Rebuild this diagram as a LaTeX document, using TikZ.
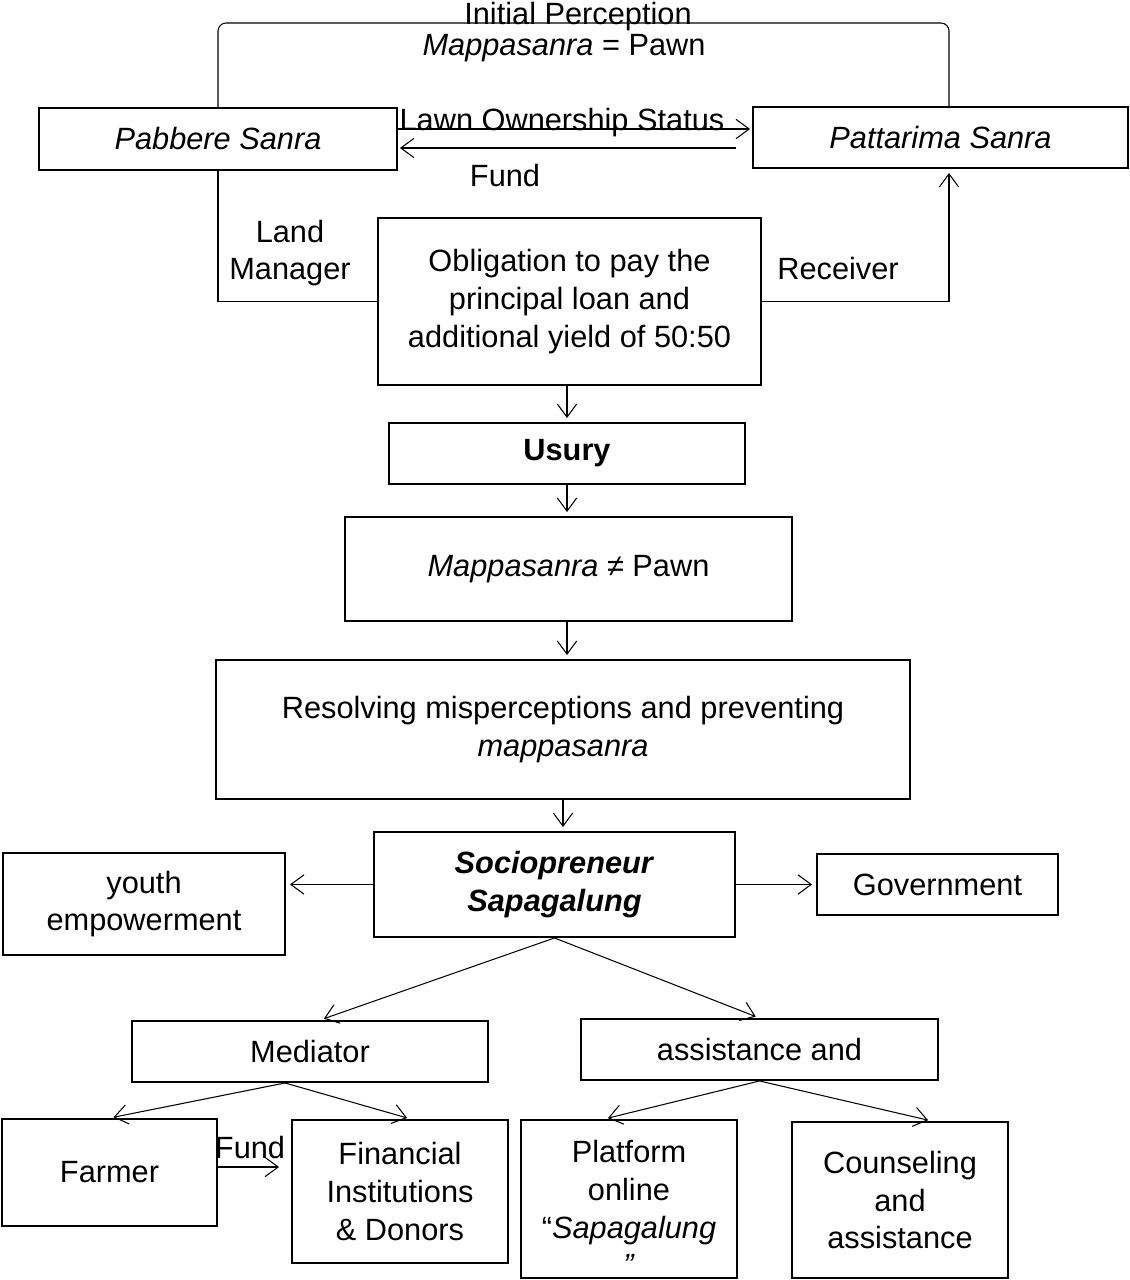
\documentclass[tikz,border=0pt]{standalone}
\usepackage{fontspec}
\setmainfont{Liberation Sans}
\usetikzlibrary{positioning, arrows, arrows.meta}

\tikzset{
  box/.style={draw, line width=1.1pt, align=center, inner sep=2pt, font=\fontsize{17.5}{21.5}\selectfont},
  lbl/.style={align=center, inner sep=0pt, font=\fontsize{17.5}{21.5}\selectfont},
  link/.style={line width=0.6pt},
  arr/.style={link, -{Straight Barb[length=7.5pt, width=11pt]}, shorten >=0.08cm},
}

\begin{document}
\begin{tikzpicture}[x=0.02cm, y=-0.02cm]
\useasboundingbox (0,0) rectangle (1129,1280);

% Sanra parties
\node[box, minimum width=7.16cm, minimum height=1.24cm] (pab) at (218,139) {\textit{Pabbere Sanra}};
\node[box, minimum width=7.5cm, minimum height=1.22cm] (pat) at (940.5,137.5) {\textit{Pattarima Sanra}};

% Initial perception loop
\coordinate (topleft) at (220,23);
\coordinate (topright) at (949,23);
\draw[link, rounded corners=0.16cm] (pab.north) -- (pab.north |- topleft) -- (topright) -- (topright |- pat.north);
\node[lbl] (initlbl) at (578,17) {Initial Perception};
\node[lbl] (mappalbl) at (564,48) {\textit{Mappasanra} = Pawn};

% Exchange between the two
\draw[arr, shorten >=0.04cm] (pab.east |- 0,129) -- (pat.west |- 0,129);
\node[lbl] (lawnlbl) at (562,123) {Lawn Ownership Status};
\coordinate (fundfrom) at (736,148);
\draw[arr, shorten >=0.04cm] (fundfrom) -- (pab.east |- fundfrom);
\node[lbl] (fundlbl) at (505,176) {Fund};

% Obligation
\node[box, minimum width=7.66cm, minimum height=3.34cm] (obl) at (569.5,301.5) {Obligation to pay the\\principal loan and\\additional yield of 50:50};
\draw[link] (pab.south) |- (obl.west);
\node[lbl] (landlbl) at (290,253) {Land\\Manager};
\draw[arr] (obl.east) -| (topright |- pat.south);
\node[lbl] (recvlbl) at (838,269) {Receiver};

% Middle column
\node[box, minimum width=7.12cm, minimum height=1.22cm] (usury) at (567,453.5) {\textbf{Usury}};
\node[box, minimum width=8.94cm, minimum height=2.08cm] (nopawn) at (568.5,569) {\textit{Mappasanra} ≠ Pawn};
\node[box, minimum width=13.88cm, minimum height=2.78cm] (resolve) at (563,729.5) {Resolving misperceptions and preventing\\\textit{mappasanra}};
\node[box, minimum width=7.22cm, minimum height=2.1cm] (socio) at (554.5,884.5) {\textbf{\textit{Sociopreneur}}\\\textbf{\textit{Sapagalung}}};

\draw[arr] (obl.south -| usury.north) -- (usury.north);
\draw[arr] (usury.south) -- (usury.south |- nopawn.north);
\draw[arr] (nopawn.south -| usury.south) -- (usury.south |- resolve.north);
\draw[arr] (resolve.south) -- (resolve.south |- socio.north);

% Sides of the sociopreneur
\node[box, minimum width=5.64cm, minimum height=2.04cm] (youth) at (144,904) {youth\\empowerment};
\node[box, minimum width=4.82cm, minimum height=1.22cm] (gov) at (937.5,884.5) {Government};
\draw[arr] (socio.west) -- (socio.west -| youth.east);
\draw[arr] (socio.east) -- (gov.west);

% Second level
\node[box, minimum width=7.12cm, minimum height=1.22cm] (mediator) at (310,1051.5) {Mediator};
\node[box, minimum width=7.14cm, minimum height=1.22cm] (assist) at (759.5,1049.5) {assistance and};
\draw[arr] (socio.south) -- ([xshift=0.2cm]mediator.north);
\draw[arr] (socio.south) -- (assist.north);

% Bottom row
\node[box, minimum width=4.3cm, minimum height=2.14cm] (farmer) at (109.5,1172.5) {Farmer};
\node[box, minimum width=4.32cm, minimum height=2.86cm] (fin) at (400,1191.5) {Financial\\Institutions\\\& Donors};
\node[box, minimum width=4.32cm, minimum height=3.16cm] (platform) at (629,1199) {};
\node[lbl] (platformtxt) at (629,1208) {Platform\\online\\“\textit{Sapagalung}\\\textit{”}};
\node[box, minimum width=4.32cm, minimum height=3.12cm] (counsel) at (900,1200) {Counseling\\and\\assistance};

\draw[arr] ([xshift=-0.5cm]mediator.south) -- (farmer.north);
\draw[arr] ([xshift=-0.5cm]mediator.south) -- ([xshift=0.22cm]fin.north);
\draw[arr, shorten >=0.24cm] (farmer.east |- 0,1167) -- (fin.west |- 0,1167);
\node[lbl] (fundlbl2) at (250,1147) {Fund};
\draw[arr] (assist.south) -- ([xshift=-0.5cm]platform.north);
\draw[arr] (assist.south) -- ([xshift=0.64cm]counsel.north);
\end{tikzpicture}
\end{document}
